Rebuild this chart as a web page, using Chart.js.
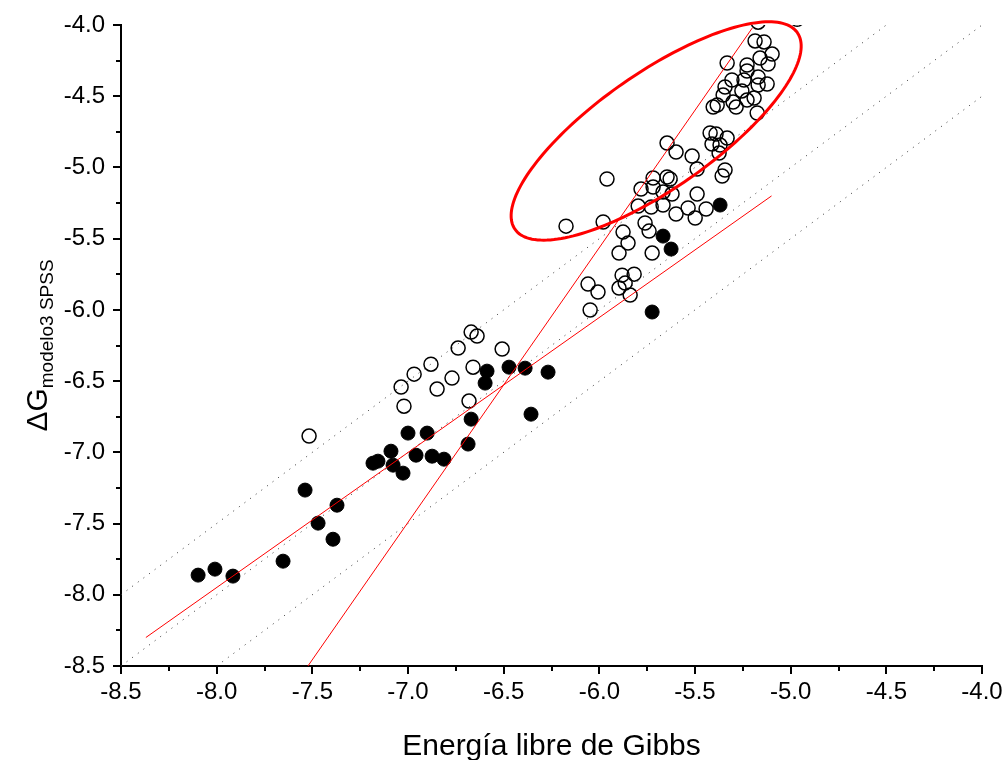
<!DOCTYPE html>
<html>
<head>
<meta charset="utf-8">
<script src="https://cdn.jsdelivr.net/npm/chart.js@4.4.1/dist/chart.umd.min.js"></script>
<style>
  html, body { margin: 0; padding: 0; background: #fff; }
  canvas { display: block; }
</style>
</head>
<body>
<canvas id="chart" width="1005" height="760"></canvas>
<script>
// --- DATOS ---
// círculos abiertos
const openX = [-5.170, -4.966, -5.186, -5.139, -5.097, -5.332, -5.160, -5.118, -5.228, -5.228,
    -5.307, -5.244, -5.170, -5.123, -5.170, -5.343, -5.255, -5.353, -5.191, -5.228,
    -5.301, -5.285, -5.405, -5.384, -5.175,
    -5.646, -5.599, -5.515, -5.489, -5.421, -5.390, -5.332, -5.411, -5.369, -5.374,
    -5.343, -5.358, -5.719, -5.646, -5.630, -5.782, -5.719, -5.667, -5.620, -5.489,
    -5.797, -5.729, -5.667, -5.536, -5.442, -5.599, -5.499, -5.761, -5.960, -6.174,
    -5.980, -5.876, -5.740, -5.850, -5.897, -5.724, -5.881, -5.818, -5.865, -5.897,
    -6.059, -6.007, -5.839, -6.048,
    -6.670, -6.639, -6.738, -6.508, -6.880, -6.660, -6.968, -6.770, -7.036, -6.848,
    -7.021, -6.681, -7.517];
const openY = [-3.98, -3.96, -4.112, -4.119, -4.204, -4.267, -4.232, -4.274, -4.281, -4.323,
    -4.386, -4.386, -4.365, -4.414, -4.421, -4.435, -4.463, -4.492, -4.513, -4.527,
    -4.541, -4.576, -4.576, -4.562, -4.618,
    -4.829, -4.892, -4.920, -5.011, -4.758, -4.765, -4.794, -4.836, -4.843, -4.899,
    -5.018, -5.060, -5.074, -5.067, -5.081, -5.152, -5.138, -5.173, -5.187, -5.187,
    -5.271, -5.278, -5.264, -5.285, -5.292, -5.327, -5.355, -5.390, -5.081, -5.412,
    -5.383, -5.454, -5.447, -5.531, -5.601, -5.601, -5.756, -5.749, -5.812, -5.847,
    -5.819, -5.875, -5.896, -6.001,
    -6.156, -6.184, -6.268, -6.275, -6.381, -6.402, -6.451, -6.479, -6.542, -6.556,
    -6.676, -6.640, -6.886];

// círculos rellenos
const filledX = [-5.369, -5.667, -5.625, -5.724, -6.587, -6.597, -6.472, -6.388, -6.268, -6.357,
    -6.670, -7.000, -6.900, -6.686, -7.089, -6.958, -6.874, -6.812, -7.183, -7.157,
    -7.078, -7.026, -7.538, -7.371, -7.470, -7.392, -7.653, -8.097, -8.009, -7.915];
const filledY = [-5.264, -5.482, -5.573, -6.015, -6.430, -6.514, -6.402, -6.409, -6.437, -6.732,
    -6.767, -6.865, -6.865, -6.942, -6.992, -7.020, -7.027, -7.048, -7.076, -7.062,
    -7.090, -7.146, -7.265, -7.371, -7.497, -7.610, -7.764, -7.862, -7.820, -7.869];

// rectas de ajuste (rojas)
const fitAX = [-8.37, -5.10];
const fitAY = [-8.30, -5.20];
const fitBX = [-7.523, -5.20];
const fitBY = [-8.50, -4.02];

// rectas punteadas y = x + k
const refOffsets = [0.5, 0, -0.5];

// ejes
const axisMin = -8.5;
const axisMax = -4.0;

const pts = (xs, ys) => xs.map((x, i) => ({ x, y: ys[i] }));

const refLines = refOffsets.map(k => {
    const x0 = Math.max(axisMin, axisMin - k);
    const x1 = Math.min(axisMax, axisMax - k);
    return [{ x: x0, y: x0 + k }, { x: x1, y: x1 + k }];
});

// --- PLUGINS ---
const ticksPlugin = {
    id: 'minorTicks',
    afterDraw(chart) {
        const { ctx, scales: { x, y } } = chart;
        ctx.save();
        ctx.strokeStyle = '#000';
        ctx.lineWidth = 2;
        for (let i = 0; i <= 18; i++) {
            const v = axisMin + i * 0.25;
            const len = i % 2 === 0 ? 8 : 5;
            const px = Math.round(x.getPixelForValue(v));
            ctx.beginPath();
            ctx.moveTo(px, x.top);
            ctx.lineTo(px, x.top + len);
            ctx.stroke();
            const py = Math.round(y.getPixelForValue(v));
            ctx.beginPath();
            ctx.moveTo(y.right, py);
            ctx.lineTo(y.right - len, py);
            ctx.stroke();
        }
        ctx.restore();
    }
};

// elipse roja (anotación)
const ellipseCenter = { x: -5.703, y: -4.744 };
const ellipseMajor = { x: 0.738, y: 0.690 };
const ellipseMinor = { x: 0.173, y: -0.334 };

const ellipsePlugin = {
    id: 'ellipse',
    afterDatasetsDraw(chart) {
        const { ctx, scales: { x, y } } = chart;
        ctx.save();
        ctx.strokeStyle = '#ff0000';
        ctx.lineWidth = 3;
        ctx.beginPath();
        for (let i = 0; i <= 180; i++) {
            const t = i / 180 * Math.PI * 2;
            const vx = ellipseCenter.x + ellipseMajor.x * Math.cos(t) + ellipseMinor.x * Math.sin(t);
            const vy = ellipseCenter.y + ellipseMajor.y * Math.cos(t) + ellipseMinor.y * Math.sin(t);
            const px = x.getPixelForValue(vx), py = y.getPixelForValue(vy);
            if (i === 0) ctx.moveTo(px, py); else ctx.lineTo(px, py);
        }
        ctx.closePath();
        ctx.stroke();
        ctx.restore();
    }
};

const titlesPlugin = {
    id: 'titles',
    afterDraw(chart) {
        const { ctx, chartArea: a } = chart;
        ctx.save();
        ctx.fillStyle = '#000';
        ctx.textBaseline = 'alphabetic';
        ctx.textAlign = 'center';
        ctx.font = '30px "Liberation Sans", Arial, sans-serif';
        ctx.fillText('Energía libre de Gibbs', (a.left + a.right) / 2, 755);

        // ΔG con subíndice, girado
        const main = 'ΔG', sub = 'modelo3 SPSS';
        const mainFont = '30px "Liberation Sans", Arial, sans-serif';
        const subFont = '19px "Liberation Sans", Arial, sans-serif';
        ctx.font = mainFont;
        const wMain = ctx.measureText(main).width;
        ctx.font = subFont;
        const wSub = ctx.measureText(sub).width;
        const total = wMain + wSub;
        ctx.translate(47, (a.top + a.bottom) / 2);
        ctx.rotate(-Math.PI / 2);
        ctx.textAlign = 'left';
        ctx.font = mainFont;
        ctx.fillText(main, -total / 2, 0);
        ctx.font = subFont;
        ctx.fillText(sub, -total / 2 + wMain, 6);
        ctx.restore();
    }
};

// --- GRÁFICO ---
const tickFont = { family: '"Liberation Sans", Arial, sans-serif', size: 24 };

new Chart(document.getElementById('chart'), {
    type: 'scatter',
    data: {
        datasets: [
            { data: pts(fitAX, fitAY), showLine: true, borderColor: '#ff0000', borderWidth: 1, pointRadius: 0, order: 1 },
            { data: pts(fitBX, fitBY), showLine: true, borderColor: '#ff0000', borderWidth: 1, pointRadius: 0, order: 1 },
            { data: pts(openX, openY), pointRadius: 7, borderWidth: 1.5, borderColor: '#000', backgroundColor: 'rgba(0,0,0,0)', clip: 0, order: 2 },
            { data: pts(filledX, filledY), pointRadius: 7, borderWidth: 1, borderColor: '#000', backgroundColor: '#000', clip: 0, order: 2 },
            ...refLines.map(d => ({ data: d, showLine: true, borderColor: '#333', borderWidth: 1, borderDash: [1, 6], pointRadius: 0, order: 3 }))
        ]
    },
    options: {
        responsive: false,
        animation: false,
        layout: { padding: { top: 25, right: 23, left: 0, bottom: 0 } },
        plugins: { legend: { display: false }, tooltip: { enabled: false } },
        scales: {
            x: {
                type: 'linear', min: axisMin, max: axisMax,
                afterFit: s => { s.height = 94; s.paddingLeft = 0; s.paddingRight = 0; },
                border: { display: true, color: '#000', width: 2 },
                grid: { display: true, drawOnChartArea: false, drawTicks: false },
                ticks: { stepSize: 0.5, color: '#000', font: tickFont, padding: 12, maxRotation: 0,
                    callback: v => v.toFixed(1) }
            },
            y: {
                type: 'linear', min: axisMin, max: axisMax,
                afterFit: s => { s.width = 121; s.paddingTop = 0; s.paddingBottom = 0; },
                border: { display: true, color: '#000', width: 2 },
                grid: { display: true, drawOnChartArea: false, drawTicks: false },
                ticks: { stepSize: 0.5, color: '#000', font: tickFont, padding: 16,
                    callback: v => v.toFixed(1) }
            }
        }
    },
    plugins: [ticksPlugin, ellipsePlugin, titlesPlugin]
});
</script>
</body>
</html>
